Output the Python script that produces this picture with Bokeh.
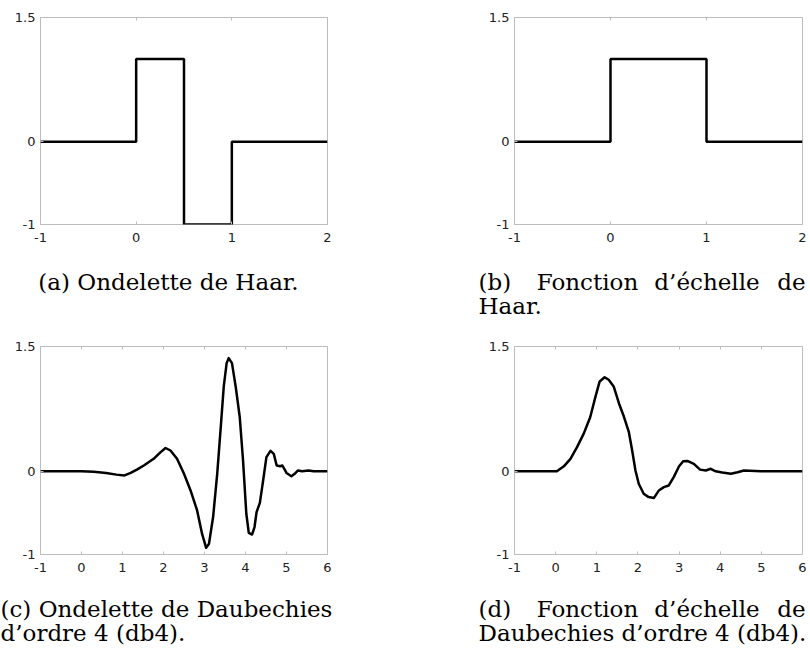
from bokeh.plotting import figure
from bokeh.models import Range1d, LinearAxis, FixedTicker
from bokeh.layouts import column, row
from bokeh.core.properties import value
from bokeh.embed import file_html
from bokeh.resources import INLINE

# ---------------- data ----------------
# Haar wavelet psi (step, value holds after each breakpoint)
haar_psi_x = [-1, 0, 0.5, 1, 2]
haar_psi_y = [0, 1, -1, 0, 0]
# Haar scaling function phi
haar_phi_x = [-1, 0, 1, 2]
haar_phi_y = [0, 1, 0, 0]

# Daubechies db4 wavelet psi
db4_psi_x = [-1.0, 0.0, 0.3, 0.6, 0.85, 1.05, 1.2, 1.35, 1.52, 1.76, 1.93, 2.05, 2.17,
             2.33, 2.50, 2.66, 2.82, 2.94, 3.04, 3.11, 3.21, 3.31, 3.39, 3.47, 3.54,
             3.59, 3.67, 3.76, 3.86, 3.94, 4.02, 4.08, 4.16, 4.22, 4.27, 4.35, 4.43,
             4.51, 4.61, 4.69, 4.76, 4.84, 4.90, 5.00, 5.12, 5.20, 5.28, 5.38, 5.54,
             5.66, 6.0]
db4_psi_y = [0.0, 0.0, -0.005, -0.02, -0.04, -0.05, -0.02, 0.02, 0.07, 0.15, 0.23, 0.28,
             0.25, 0.15, -0.03, -0.23, -0.47, -0.75, -0.92, -0.87, -0.55, -0.03, 0.49,
             1.02, 1.30, 1.36, 1.30, 1.02, 0.65, 0.13, -0.51, -0.74, -0.76, -0.67, -0.49,
             -0.38, -0.11, 0.17, 0.245, 0.21, 0.07, 0.06, 0.07, -0.02, -0.06, -0.03, 0.01,
             0.0, 0.01, 0.0, 0.0]

# Daubechies db4 scaling function phi
db4_phi_x = [-1.0, 0.03, 0.2, 0.36, 0.52, 0.68, 0.84, 0.97, 1.07, 1.19, 1.29, 1.41, 1.54,
             1.66, 1.78, 1.86, 1.94, 2.02, 2.14, 2.26, 2.39, 2.51, 2.63, 2.75, 2.87, 3.00,
             3.10, 3.20, 3.36, 3.51, 3.65, 3.77, 3.89, 4.05, 4.26, 4.42, 4.58, 4.99, 6.0]
db4_phi_y = [0.0, 0.0, 0.06, 0.15, 0.29, 0.45, 0.65, 0.90, 1.08, 1.13, 1.10, 1.02, 0.815,
             0.655, 0.47, 0.25, 0.01, -0.15, -0.27, -0.31, -0.32, -0.23, -0.19, -0.17,
             -0.07, 0.06, 0.12, 0.125, 0.09, 0.02, 0.01, 0.03, 0.0, -0.015, -0.03, -0.012,
             0.01, 0.0, 0.0]

# ticks
y_ticks = [-1, 0, 1.5]
y_tick_labels = ["-1", "0", "1.5"]
x_ticks_haar = [-1, 0, 1, 2]
x_tick_labels_haar = ["-1", "0", "1", "2"]
x_ticks_db4 = [-1, 0, 1, 2, 3, 4, 5, 6]
x_tick_labels_db4 = ["-1", "0", "1", "2", "3", "4", "5", "6"]

# captions
caption_a = "(a) Ondelette de Haar."
caption_b_words = ["(b)", "Fonction", "d’échelle", "de"]
caption_b_line2 = "Haar."
caption_c_line1 = "(c) Ondelette de Daubechies"
caption_c_line2 = "d’ordre 4 (db4)."
caption_d_words = ["(d)", "Fonction", "d’échelle", "de"]
caption_d_line2 = "Daubechies d’ordre 4 (db4)."

# ---------------- styling ----------------
FRAME_COLOR = "#bdbdbd"
TICK_FONT = "DejaVu Sans"
TICK_SIZE = "13px"
CAP_FONT = "DejaVu Serif"
CAP_SIZE = "23px"
LEFT_W = 408
RIGHT_W = 402


def style_axis(ax, ticks, labels, show_labels, standoff=5):
    ax.ticker = FixedTicker(ticks=ticks)
    ax.axis_line_color = None
    ax.major_tick_in = 3
    ax.major_tick_out = 0
    ax.major_tick_line_color = FRAME_COLOR
    ax.minor_tick_line_color = None
    if show_labels:
        ax.major_label_overrides = {t: l for t, l in zip(ticks, labels)}
        ax.major_label_standoff = standoff
        ax.major_label_text_font = TICK_FONT
        ax.major_label_text_font_size = TICK_SIZE
        ax.major_label_text_color = "#222222"
    else:
        ax.major_label_standoff = 0
        ax.major_label_text_font_size = "6px"
        ax.major_label_text_color = None


def make_plot(xs, ys, x_end, x_ticks, x_labels, left_col, top_row, step=False):
    if left_col:
        w, bl, br = LEFT_W, 40, 81
    else:
        w, bl, br = RIGHT_W, 106, 8
    if top_row:
        h, bt, bb = 255, 17, 31
    else:
        h, bt, bb = 250, 16, 26
    p = figure(width=w, height=h, x_range=Range1d(-1, x_end), y_range=Range1d(-1, 1.5),
               toolbar_location=None, output_backend="svg",
               min_border_left=bl, min_border_right=br,
               min_border_top=bt, min_border_bottom=bb)
    p.grid.visible = False
    p.outline_line_color = FRAME_COLOR
    p.outline_line_width = 1
    p.background_fill_color = "white"
    p.border_fill_color = "white"
    p.add_layout(LinearAxis(), "above")
    style_axis(p.below[0], x_ticks, x_labels, True, standoff=8)
    style_axis(p.above[0], x_ticks, x_labels, False)
    style_axis(p.left[0], y_ticks, y_tick_labels, True, standoff=5)
    if step:
        p.step(xs, ys, mode="after", line_color="black", line_width=2.5)
    else:
        p.line(xs, ys, line_color="black", line_width=2.5, line_join="round")
    return p


def caption_fig(width, height, items):
    p = figure(width=width, height=height, x_range=Range1d(0, width),
               y_range=Range1d(height, 0), toolbar_location=None, output_backend="svg",
               x_axis_type=None, y_axis_type=None, min_border=0)
    p.grid.visible = False
    p.outline_line_color = None
    p.background_fill_color = "white"
    p.border_fill_color = "white"
    for (x, y, txt, align) in items:
        p.text(x=[x], y=[y], text=[txt], text_font=value(CAP_FONT), text_font_size=CAP_SIZE,
               text_align=align, text_baseline="alphabetic", text_color="black")
    return p


pa = make_plot(haar_psi_x, haar_psi_y, 2, x_ticks_haar, x_tick_labels_haar, True, True, step=True)
pb = make_plot(haar_phi_x, haar_phi_y, 2, x_ticks_haar, x_tick_labels_haar, False, True, step=True)
pc = make_plot(db4_psi_x, db4_psi_y, 6, x_ticks_db4, x_tick_labels_db4, True, False)
pd = make_plot(db4_phi_x, db4_phi_y, 6, x_ticks_db4, x_tick_labels_db4, False, False)

ca = caption_fig(LEFT_W, 75, [(168, 26, caption_a, "center")])
cb = caption_fig(RIGHT_W, 75, [(70, 26, caption_b_words[0], "left"),
                               (179, 26, caption_b_words[1], "center"),
                               (298.5, 26, caption_b_words[2], "center"),
                               (397, 26, caption_b_words[3], "right"),
                               (70, 50, caption_b_line2, "left")])
cc = caption_fig(LEFT_W, 78, [(0, 28, caption_c_line1, "left"),
                              (0, 52, caption_c_line2, "left")])
cd = caption_fig(RIGHT_W, 78, [(70, 28, caption_d_words[0], "left"),
                               (179, 28, caption_d_words[1], "center"),
                               (298.5, 28, caption_d_words[2], "center"),
                               (397, 28, caption_d_words[3], "right"),
                               (70, 52, caption_d_line2, "left")])

layout = column(row(pa, pb), row(ca, cb), row(pc, pd), row(cc, cd))

open("out.html", "w").write(file_html(layout, INLINE))
